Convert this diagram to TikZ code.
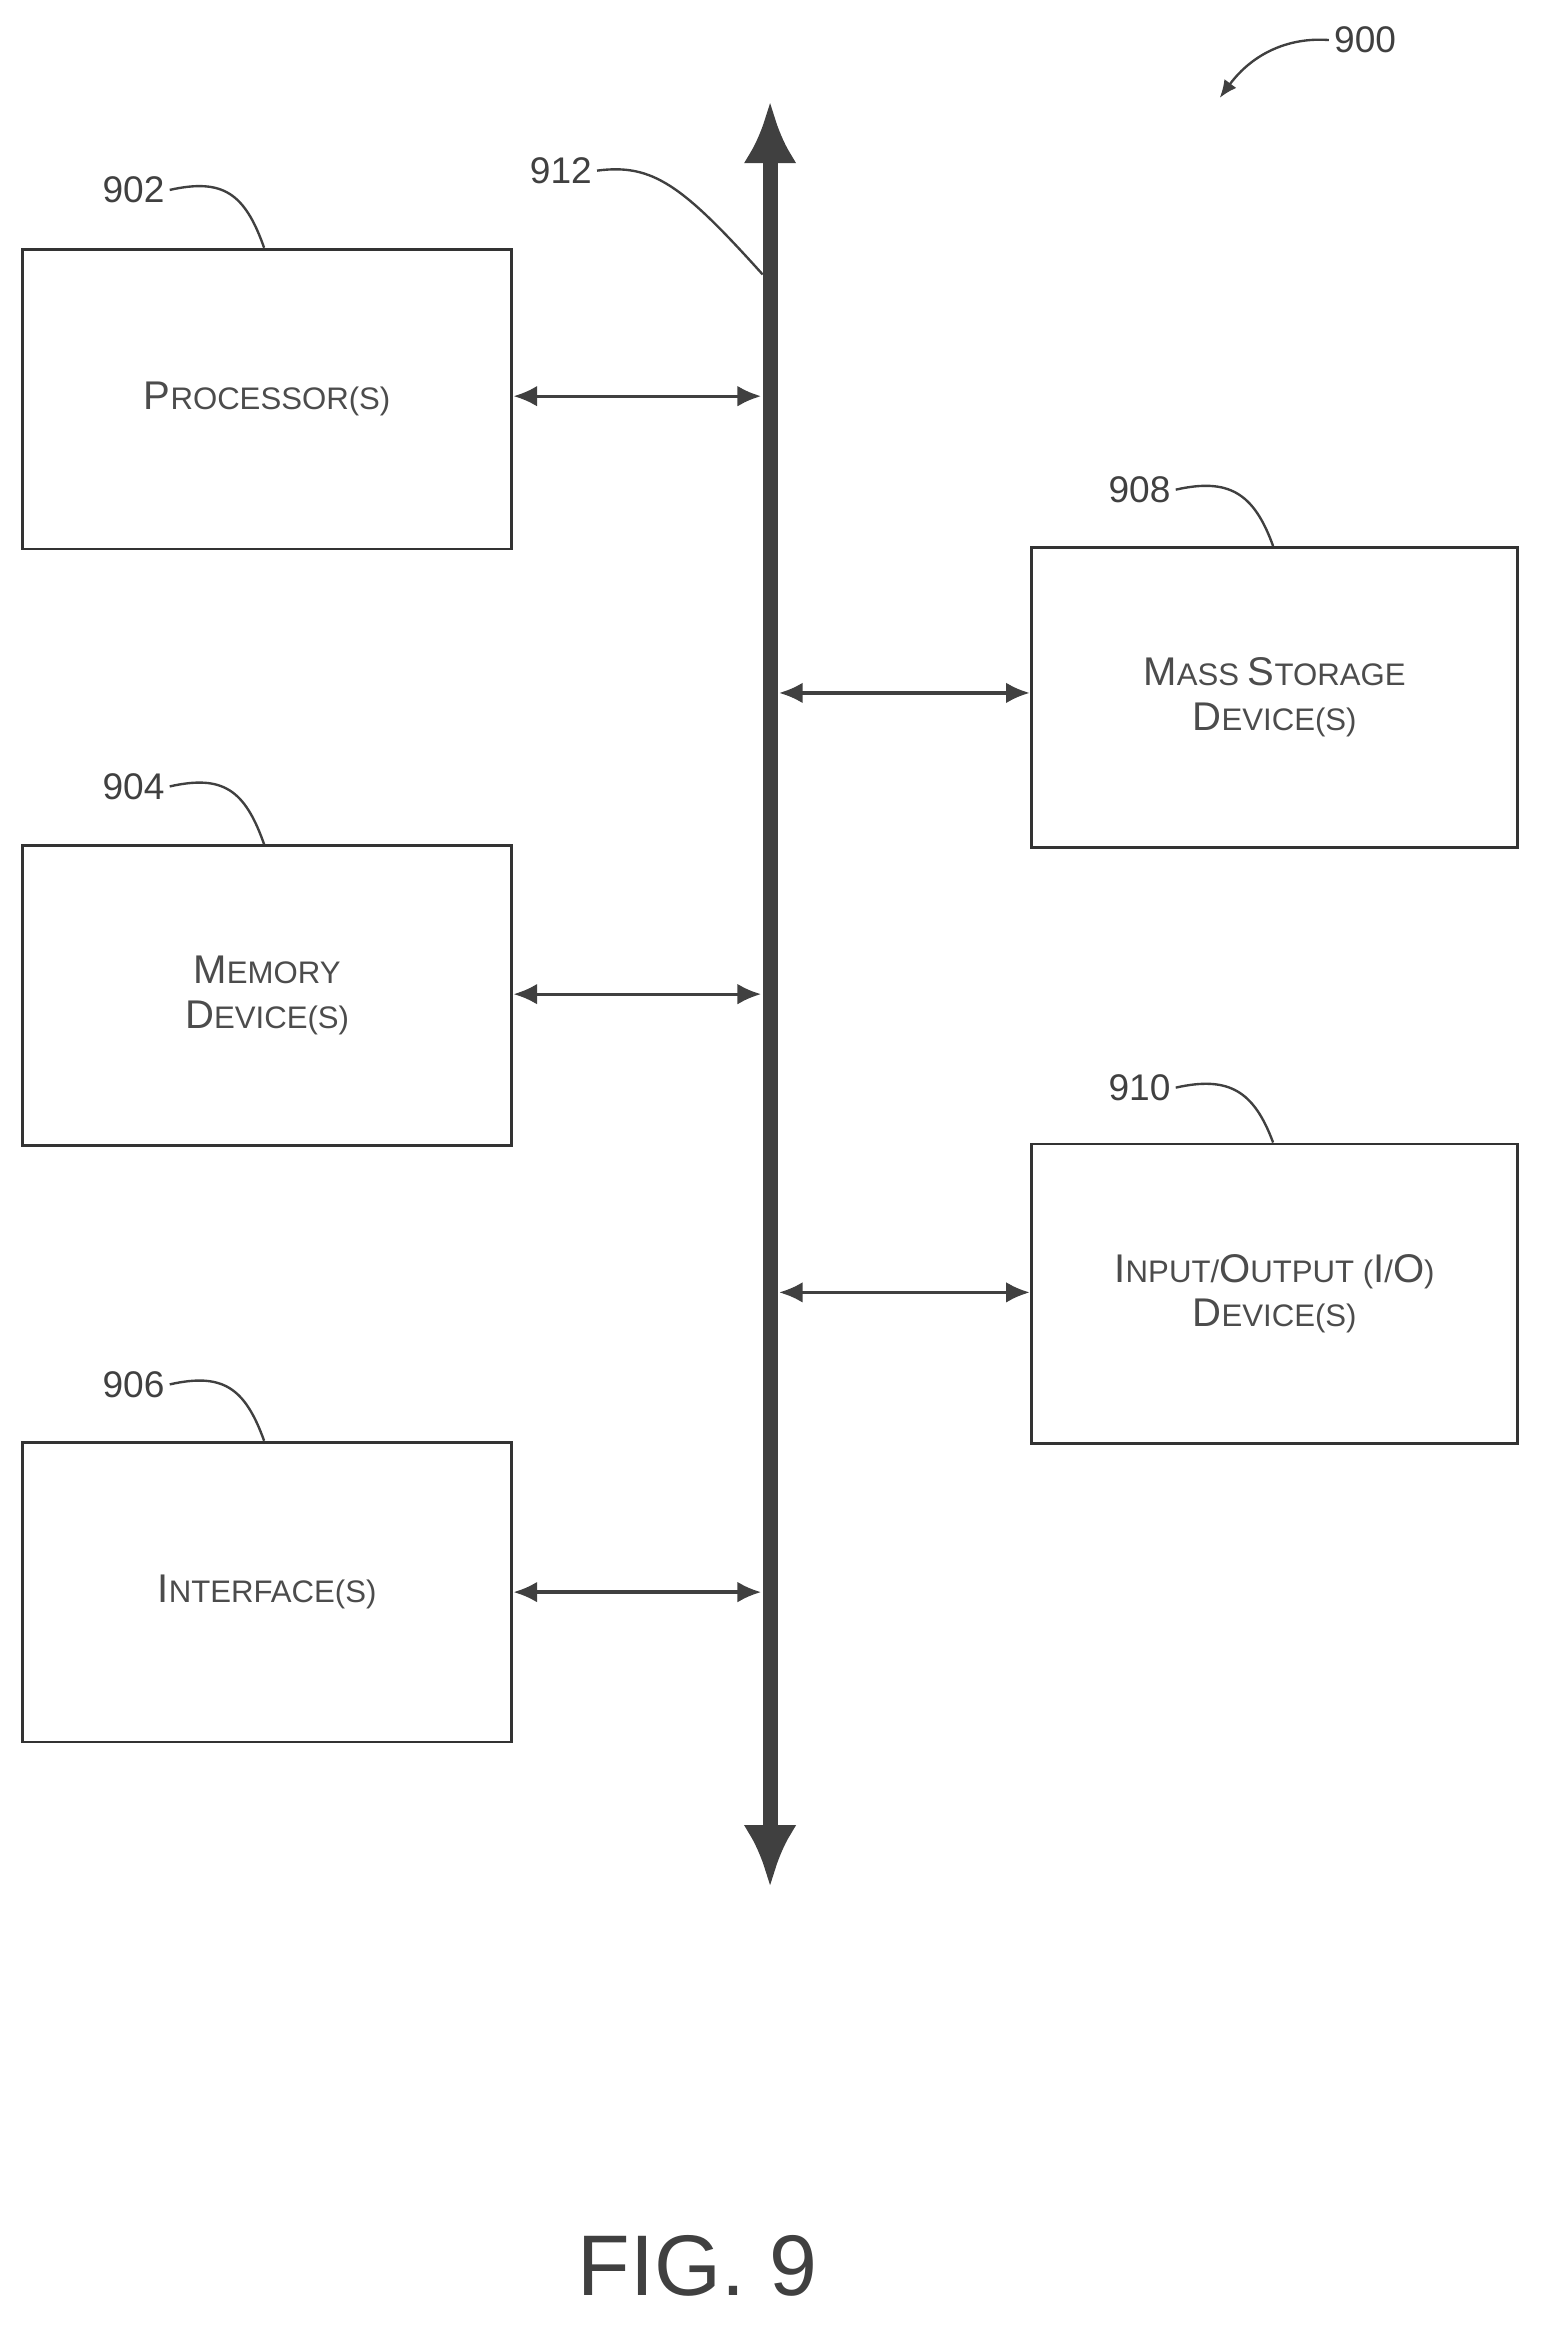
\documentclass[tikz,border=0pt]{standalone}
\usepackage{fontspec}
\setmainfont{Liberation Sans}
\usetikzlibrary{arrows.meta}
\newcommand{\C}[1]{{\fontsize{27}{30}\selectfont #1}}
\begin{document}
\begin{tikzpicture}[x=1pt,y=-1pt,
  box/.style={draw,line width=2pt,minimum width=330pt,minimum height=202pt,anchor=north west,align=center,font=\fontsize{21}{30}\selectfont,color=black!80,text=black!70},
  conn/.style={draw=black!75,line width=2.2pt,{Latex[length=16pt,width=14pt]}-{Latex[length=16pt,width=14pt]}},
  lab/.style={font=\fontsize{25}{28}\selectfont,text=black!75},
  lead/.style={draw=black!75,line width=1.6pt}]
\useasboundingbox (0,0) rectangle (1040,1573);
\node[box] (p) at (14,167) {\C{P}ROCESSOR(S)};
\node[box] (m) at (14,569) {\C{M}EMORY\\\C{D}EVICE(S)};
\node[box] (i) at (14,971) {\C{I}NTERFACE(S)};
\node[box,minimum width=328pt] (s) at (694,368) {\C{M}ASS \C{S}TORAGE\\\C{D}EVICE(S)};
\node[box,minimum width=328pt] (o) at (694,770) {\C{I}NPUT/\C{O}UTPUT (\C{I}/\C{O})\\\C{D}EVICE(S)};
\coordinate (bt) at (519,68);
\coordinate (bb) at (519,1272);
\draw[draw=black!75,line width=10pt,{Latex[length=42pt,width=36pt]}-{Latex[length=42pt,width=36pt]}] (bt) -- (bb);
\coordinate (b1) at (513,267); \coordinate (b2) at (525,467);
\coordinate (b3) at (513,670); \coordinate (b4) at (525,871);
\coordinate (b5) at (513,1073);
\draw[conn] (p.east |- b1) -- (b1);
\draw[conn] (b2) -- (s.west |- b2);
\draw[conn] (m.east |- b3) -- (b3);
\draw[conn] (b4) -- (o.west |- b4);
\draw[conn] (i.east |- b5) -- (b5);
\node[lab] (l902) at (90,128) {902};
\node[lab] (l904) at (90,530) {904};
\node[lab] (l906) at (90,933) {906};
\node[lab] (l908) at (768,330) {908};
\node[lab] (l910) at (768,733) {910};
\node[lab] (l912) at (378,115) {912};
\node[lab] (l900) at (920,27) {900};
\draw[lead] (l902.east) .. controls (150,120) and (165,130) .. (178,167);
\draw[lead] (l904.east) .. controls (150,522) and (165,532) .. (178,569);
\draw[lead] (l906.east) .. controls (150,925) and (165,935) .. (178,971);
\draw[lead] (l908.east) .. controls (828,322) and (845,332) .. (858,368);
\draw[lead] (l910.east) .. controls (828,725) and (845,735) .. (858,770);
\draw[lead] (l912.east) .. controls (440,110) and (460,125) .. (514,185);
\coordinate (t900) at (822,66);
\draw[lead,-{Latex[length=12pt,width=10pt]}] (l900.west) .. controls (870,25) and (845,35) .. (t900);
\node[font=\fontsize{58}{60}\selectfont,text=black!75] (fig) at (470,1527) {FIG. 9};
\end{tikzpicture}
\end{document}
